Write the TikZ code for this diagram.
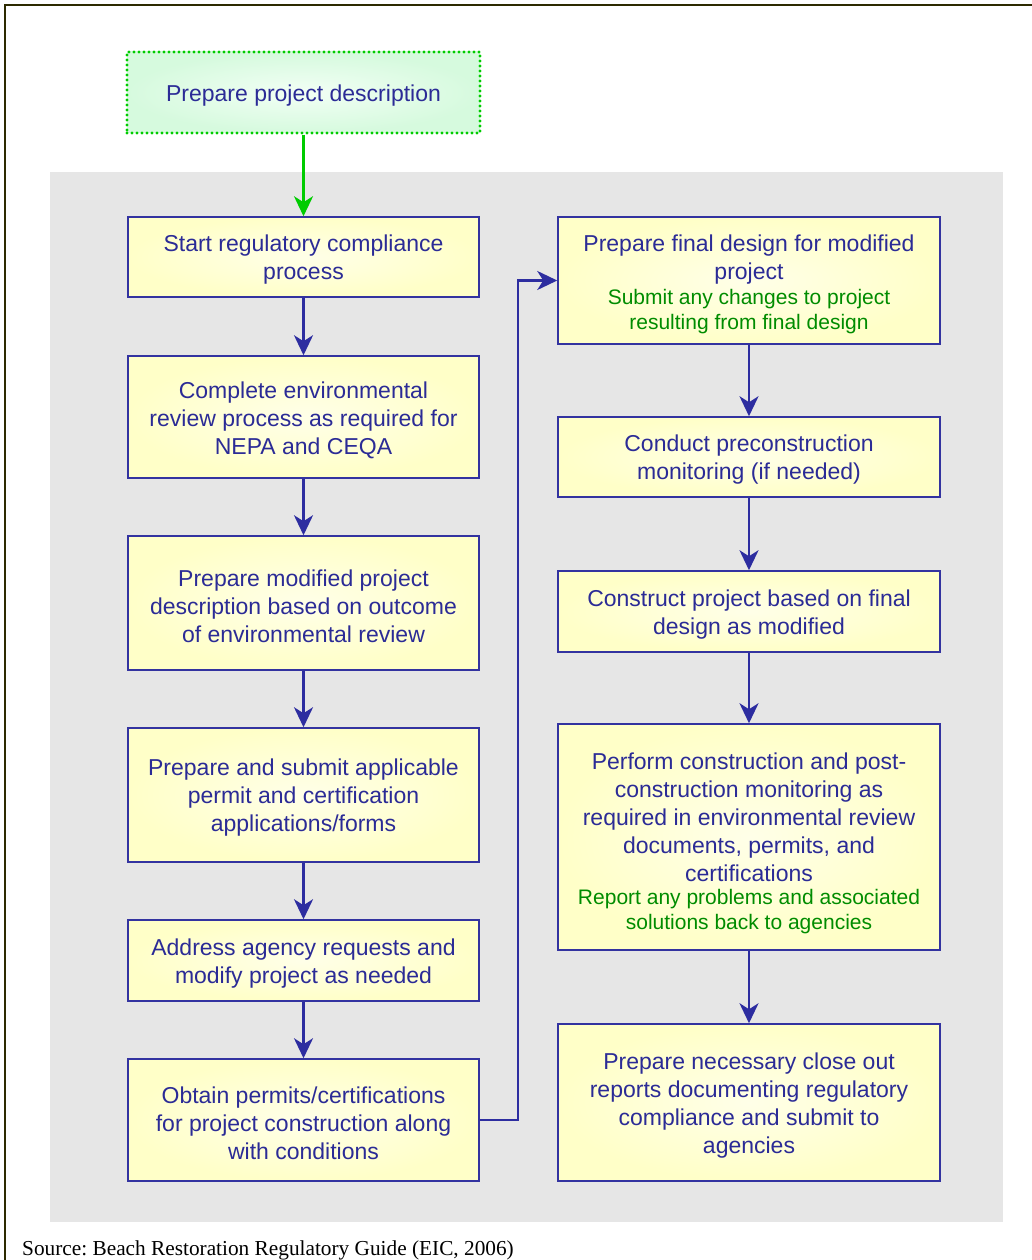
\documentclass[tikz,border=0pt]{standalone}
\usepackage{fontspec}
\setmainfont{Liberation Sans}
\newfontfamily\srcfont{Liberation Serif}
\usetikzlibrary{arrows.meta}
\definecolor{textblue}{RGB}{43,43,150}
\definecolor{boxblue}{RGB}{51,51,160}
\definecolor{arrblue}{RGB}{45,45,160}
\definecolor{txtgreen}{RGB}{0,140,0}
\definecolor{arrgreen}{RGB}{0,204,0}
\definecolor{panelgray}{RGB}{230,230,230}
\definecolor{boxyellow}{RGB}{255,255,200}
\definecolor{boxyellowin}{RGB}{255,255,232}
\definecolor{greenfill}{RGB}{214,250,222}
\definecolor{greenfillin}{RGB}{242,255,245}
\definecolor{framecol}{RGB}{45,42,0}
\frenchspacing
\begin{document}
\begin{tikzpicture}[x=1pt,y=-1pt,
  stepbox/.style={draw=boxblue, line width=1.5pt, shade, inner color=boxyellowin, outer color=boxyellow, inner sep=0pt},
  lcol/.style={stepbox, minimum width=351pt},
  rcol/.style={stepbox, minimum width=382pt},
  bluetxt/.style={text=textblue, align=center, font=\fontsize{23}{28}\selectfont, inner sep=0pt},
  greentxt/.style={text=txtgreen, align=center, font=\fontsize{21}{25}\selectfont, inner sep=0pt},
  arr/.style={draw=arrblue, line width=2.5pt, -{Stealth[length=20pt,width=19pt,inset=6pt]}},
  garr/.style={draw=arrgreen, line width=2.5pt, -{Stealth[length=20pt,width=19pt,inset=6pt]}},
  startbox/.style={draw=arrgreen, line width=3.2pt, line cap=round, dash pattern=on 0pt off 5pt,
    shade, inner color=greenfillin, outer color=greenfill, inner sep=0pt}
]
\useasboundingbox (0,0) rectangle (1032,1260);
\fill[white] (0,0) rectangle (1032,1260);
% frame
\draw[framecol, line width=2.5pt] (1032,5) -- (5,5) -- (5,1260);
% panel
\fill[panelgray] (50,172) rectangle (1003,1222);

% top box
\node[startbox, minimum width=353pt, minimum height=81pt] (top) at (303.5,92.5) {};
\node[bluetxt] (topt) at ([yshift=-3.5pt]top.center) {Prepare project description};

% left column
\node[lcol, minimum height=80pt] (L1) at (303.5,257) {};
\node[bluetxt] (L1t) at ([yshift=-3pt]L1.center) {Start regulatory compliance\\process};
\node[lcol, minimum height=122pt] (L2) at (303.5,417) {};
\node[bluetxt] (L2t) at ([yshift=-3pt]L2.center) {Complete environmental\\review process as required for\\NEPA and CEQA};
\node[lcol, minimum height=134pt] (L3) at (303.5,603) {};
\node[bluetxt] (L3t) at ([yshift=-3pt]L3.center) {Prepare modified project\\description based on outcome\\of environmental review};
\node[lcol, minimum height=134pt] (L4) at (303.5,795) {};
\node[bluetxt] (L4t) at ([yshift=-3pt]L4.center) {Prepare and submit applicable\\permit and certification\\applications/forms};
\node[lcol, minimum height=81pt] (L5) at (303.5,960.5) {};
\node[bluetxt] (L5t) at ([yshift=-3pt]L5.center) {Address agency requests and\\modify project as needed};
\node[lcol, minimum height=122pt] (L6) at (303.5,1120) {};
\node[bluetxt] (L6t) at ([yshift=-3pt]L6.center) {Obtain permits/certifications\\for project construction along\\with conditions};

% right column
\node[rcol, minimum height=127pt] (R1) at (749,280.5) {};
\node[bluetxt] (R1t) at (749,259.5) {Prepare final design for modified\\project};
\node[greentxt] (R1g) at (749,312) {Submit any changes to project\\resulting from final design};
\node[rcol, minimum height=80pt] (R2) at (749,457) {};
\node[bluetxt] (R2t) at ([yshift=-3pt]R2.center) {Conduct preconstruction\\monitoring (if needed)};
\node[rcol, minimum height=81pt] (R3) at (749,611.5) {};
\node[bluetxt] (R3t) at ([yshift=-3pt]R3.center) {Construct project based on final\\design as modified};
\node[rcol, minimum height=226pt] (R4) at (749,837) {};
\node[bluetxt] (R4t) at (749,817) {Perform construction and post-\\construction monitoring as\\required in environmental review\\documents, permits, and\\certifications};
\node[greentxt] (R4g) at (749,911.5) {Report any problems and associated\\solutions back to agencies};
\node[rcol, minimum height=157pt] (R5) at (749,1102.5) {};
\node[bluetxt] (R5t) at ([yshift=-3pt]R5.center) {Prepare necessary close out\\reports documenting regulatory\\compliance and submit to\\agencies};

% connectors
\draw[garr] (top.south) -- (L1.north);
\draw[arr] (L1.south) -- (L2.north);
\draw[arr] (L2.south) -- (L3.north);
\draw[arr] (L3.south) -- (L4.north);
\draw[arr] (L4.south) -- (L5.north);
\draw[arr] (L5.south) -- (L6.north);
\coordinate (elbow) at (518,1120);
\draw[arr] (L6.east) -- (elbow) |- (R1.west);
\draw[arr] (R1.south) -- (R2.north);
\draw[arr] (R2.south) -- (R3.north);
\draw[arr] (R3.south) -- (R4.north);
\draw[arr] (R4.south) -- (R5.north);

% source
\node[anchor=base west, inner sep=0pt, font=\srcfont\fontsize{21.3}{25}\selectfont, text=black] (src) at (22,1255) {Source: Beach Restoration Regulatory Guide (EIC, 2006)};
\end{tikzpicture}
\end{document}
